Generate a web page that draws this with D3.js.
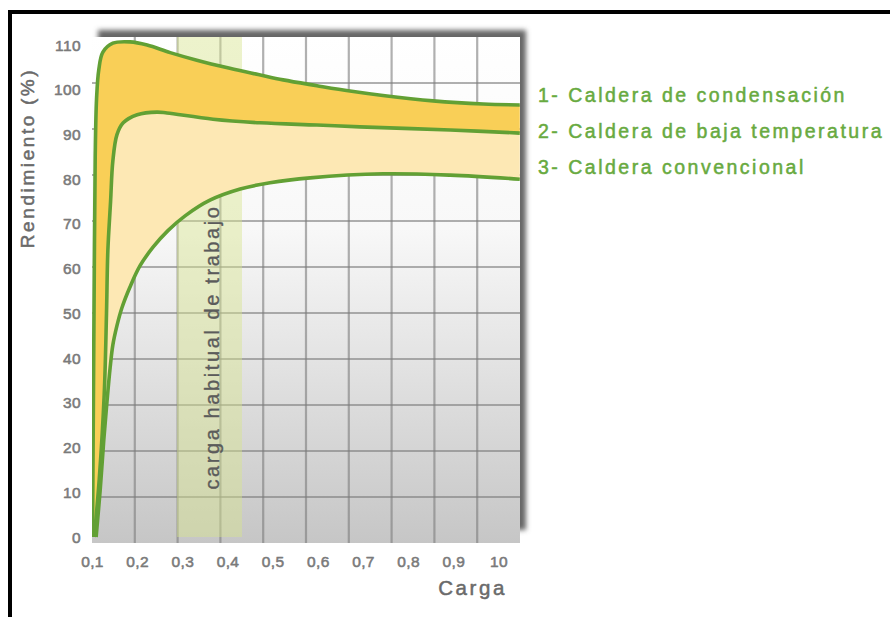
<!DOCTYPE html>
<html>
<head>
<meta charset="utf-8">
<script src="https://cdn.jsdelivr.net/npm/d3@7"></script>
<style>
  html, body { margin: 0; padding: 0; background: #ffffff; }
  svg { display: block; font-family: "Liberation Sans", Arial, Helvetica, sans-serif; }
</style>
</head>
<body>
<svg id="chart" width="890" height="617"></svg>
<script>
// Load (carga) ticks and their printed labels
const loadTicks = [0.1, 0.2, 0.3, 0.4, 0.5, 0.6, 0.7, 0.8, 0.9, 1.0];
const loadTickLabels = ["0,1", "0,2", "0,3", "0,4", "0,5", "0,6", "0,7", "0,8", "0,9", "10"];

// Efficiency (rendimiento, %) ticks
const yieldTicks = [0, 10, 20, 30, 40, 50, 60, 70, 80, 90, 100, 110];

// Series names, top to bottom
const seriesNames = [
  "1- Caldera de condensación",
  "2- Caldera de baja temperatura",
  "3- Caldera convencional"
];

// Efficiency curves as [carga, rendimiento %]
const condensacion = [
  [0.100, 0], [0.102, 30], [0.104, 60], [0.106, 85], [0.109, 98], [0.114, 104.5],
  [0.123, 108.4], [0.145, 110.4], [0.183, 110.7], [0.221, 110], [0.272, 108.3],
  [0.331, 106.6], [0.404, 104.8], [0.467, 103.4], [0.522, 102.2], [0.597, 100.9],
  [0.670, 99.7], [0.743, 98.7], [0.854, 97.5], [0.965, 96.8], [1.046, 96.6]
];
const bajaTemperatura = [
  [0.104, 0], [0.115, 13], [0.126, 32], [0.131, 50], [0.134, 64], [0.140, 75],
  [0.145, 84], [0.154, 89.9], [0.168, 92.6], [0.199, 94.4], [0.243, 95],
  [0.265, 94.8], [0.367, 93.4], [0.471, 92.6], [0.597, 92.1], [0.692, 91.7],
  [0.892, 91], [1.046, 90.3]
];
const convencional = [
  [0.108, 0], [0.117, 10.5], [0.125, 21.7], [0.132, 30.2], [0.139, 37.8],
  [0.145, 42.9], [0.154, 47.2], [0.165, 51.2], [0.183, 55.9], [0.205, 60.6],
  [0.234, 64.8], [0.267, 68.5], [0.305, 71.8], [0.360, 75.3], [0.427, 77.8],
  [0.493, 79.2], [0.582, 80.3], [0.743, 81.2], [0.892, 80.9], [1.046, 80]
];

// Usual working load range
const workingBand = [0.287, 0.431];
const workingBandLabel = "carga habitual de trabajo";

// ---- layout ----
const plot = { left: 92, right: 520, top: 37, bottom: 543 };
const gridCols = 10, gridRows = 11;

const svg = d3.select("#chart");
const defs = svg.append("defs");

const x = d3.scaleLinear().domain([0.1, 1.0]).range([92.5, 499]);
const y = d3.scaleLinear().domain([0, 110]).range([537, 45]);

// decorative background grid
const gx = d3.scaleLinear().domain([0, gridCols]).range([plot.left, plot.right]);
const gy = d3.scaleLinear().domain([0, gridRows]).range([plot.top, plot.bottom]);

// page frame (top and left rule)
svg.append("path")
  .attr("d", "M10,617V12H890")
  .attr("fill", "none")
  .attr("stroke", "#000")
  .attr("stroke-width", 4);

// background gradient and drop shadow
const bg = defs.append("linearGradient").attr("id", "plotBg")
  .attr("x1", 0).attr("y1", 0).attr("x2", 0).attr("y2", 1);
bg.append("stop").attr("offset", "0%").attr("stop-color", "#ffffff");
bg.append("stop").attr("offset", "38%").attr("stop-color", "#f8f8f8");
bg.append("stop").attr("offset", "100%").attr("stop-color", "#c6c6c6");

const blur = defs.append("filter").attr("id", "shadowBlur")
  .attr("x", "-10%").attr("y", "-10%").attr("width", "120%").attr("height", "120%");
blur.append("feGaussianBlur").attr("stdDeviation", 2.6);

defs.append("clipPath").attr("id", "plotClip")
  .append("rect")
  .attr("x", plot.left).attr("y", plot.top)
  .attr("width", plot.right - plot.left).attr("height", plot.bottom - plot.top);

svg.append("rect")
  .attr("x", plot.left + 6).attr("y", plot.top - 7)
  .attr("width", plot.right - plot.left).attr("height", plot.bottom - plot.top - 6)
  .attr("fill", "#666")
  .attr("filter", "url(#shadowBlur)");

svg.append("rect")
  .attr("x", plot.left).attr("y", plot.top)
  .attr("width", plot.right - plot.left).attr("height", plot.bottom - plot.top)
  .attr("fill", "url(#plotBg)");

const inner = svg.append("g").attr("clip-path", "url(#plotClip)");

// grid
inner.append("g").selectAll("line.v")
  .data(d3.range(1, gridCols))
  .join("line")
  .attr("x1", d => gx(d)).attr("x2", d => gx(d))
  .attr("y1", plot.top).attr("y2", plot.bottom)
  .attr("stroke", "#7c7c7c").attr("stroke-opacity", 0.6).attr("stroke-width", 2.2);
inner.append("g").selectAll("line.h")
  .data(d3.range(1, gridRows))
  .join("line")
  .attr("y1", d => gy(d)).attr("y2", d => gy(d))
  .attr("x1", plot.left).attr("x2", plot.right)
  .attr("stroke", "#7c7c7c").attr("stroke-opacity", 0.6).attr("stroke-width", 2.2);

// working load band
inner.append("rect")
  .attr("x", x(workingBand[0]))
  .attr("width", x(workingBand[1]) - x(workingBand[0]))
  .attr("y", plot.top).attr("height", plot.bottom - plot.top - 6)
  .attr("fill", "#d6e48e").attr("fill-opacity", 0.45);

// filled regions between the curves
const line = d3.line()
  .x(d => x(d[0])).y(d => y(d[1]))
  .curve(d3.curveCatmullRom.alpha(0.5));

function between(upper, lower) {
  const a = line(upper);
  const b = line(lower.slice().reverse());
  return a + "L" + b.slice(1) + "Z";
}

inner.append("path")
  .attr("d", between(condensacion, bajaTemperatura))
  .attr("fill", "#f9cf57");
inner.append("path")
  .attr("d", between(bajaTemperatura, convencional))
  .attr("fill", "#fde8b4");

// curve outlines
inner.selectAll("path.curve")
  .data([condensacion, bajaTemperatura, convencional])
  .join("path")
  .attr("class", "curve")
  .attr("d", line)
  .attr("fill", "none")
  .attr("stroke", "#62a034")
  .attr("stroke-width", 3.6)
  .attr("stroke-linejoin", "round");

// text helper: slightly heavier strokes for the labels
function heavy(sel, color, w) {
  return sel.attr("fill", color).attr("stroke", color).attr("stroke-width", w)
    .attr("stroke-linejoin", "round");
}

// band label
heavy(svg.append("text")
  .attr("transform", `translate(${(x(workingBand[0]) + x(workingBand[1])) / 2 + 10},347) rotate(-90)`)
  .attr("text-anchor", "middle")
  .attr("font-size", 20)
  .attr("letter-spacing", 2.6)
  .text(workingBandLabel), "#5b5b5b", 0.35);

// y tick labels
heavy(svg.append("g").selectAll("text")
  .data(yieldTicks)
  .join("text")
  .attr("x", 81)
  .attr("y", d => y(d))
  .attr("dy", "0.36em")
  .attr("text-anchor", "end")
  .attr("font-size", 15.5)
  .attr("letter-spacing", 0.4)
  .text(d => d), "#7a7a7a", 0.55);

// x tick labels
heavy(svg.append("g").selectAll("text")
  .data(loadTicks)
  .join("text")
  .attr("x", d => x(d))
  .attr("y", 567)
  .attr("text-anchor", "middle")
  .attr("font-size", 15.5)
  .attr("letter-spacing", 0.4)
  .text((d, i) => loadTickLabels[i]), "#7a7a7a", 0.55);

// axis titles
heavy(svg.append("text")
  .attr("transform", "translate(34,158) rotate(-90)")
  .attr("text-anchor", "middle")
  .attr("font-size", 19)
  .attr("letter-spacing", 2.6)
  .text("Rendimiento (%)"), "#6a6a6a", 0.5);

heavy(svg.append("text")
  .attr("x", 507).attr("y", 595)
  .attr("text-anchor", "end")
  .attr("font-size", 20.5)
  .attr("letter-spacing", 2.6)
  .text("Carga"), "#6a6a6a", 0.5);

// series legend
heavy(svg.append("g").selectAll("text")
  .data(seriesNames)
  .join("text")
  .attr("x", 538)
  .attr("y", (d, i) => 102 + i * 36)
  .attr("font-size", 19.5)
  .attr("letter-spacing", 2.5)
  .text(d => d), "#68aa40", 0.5);
</script>
</body>
</html>
